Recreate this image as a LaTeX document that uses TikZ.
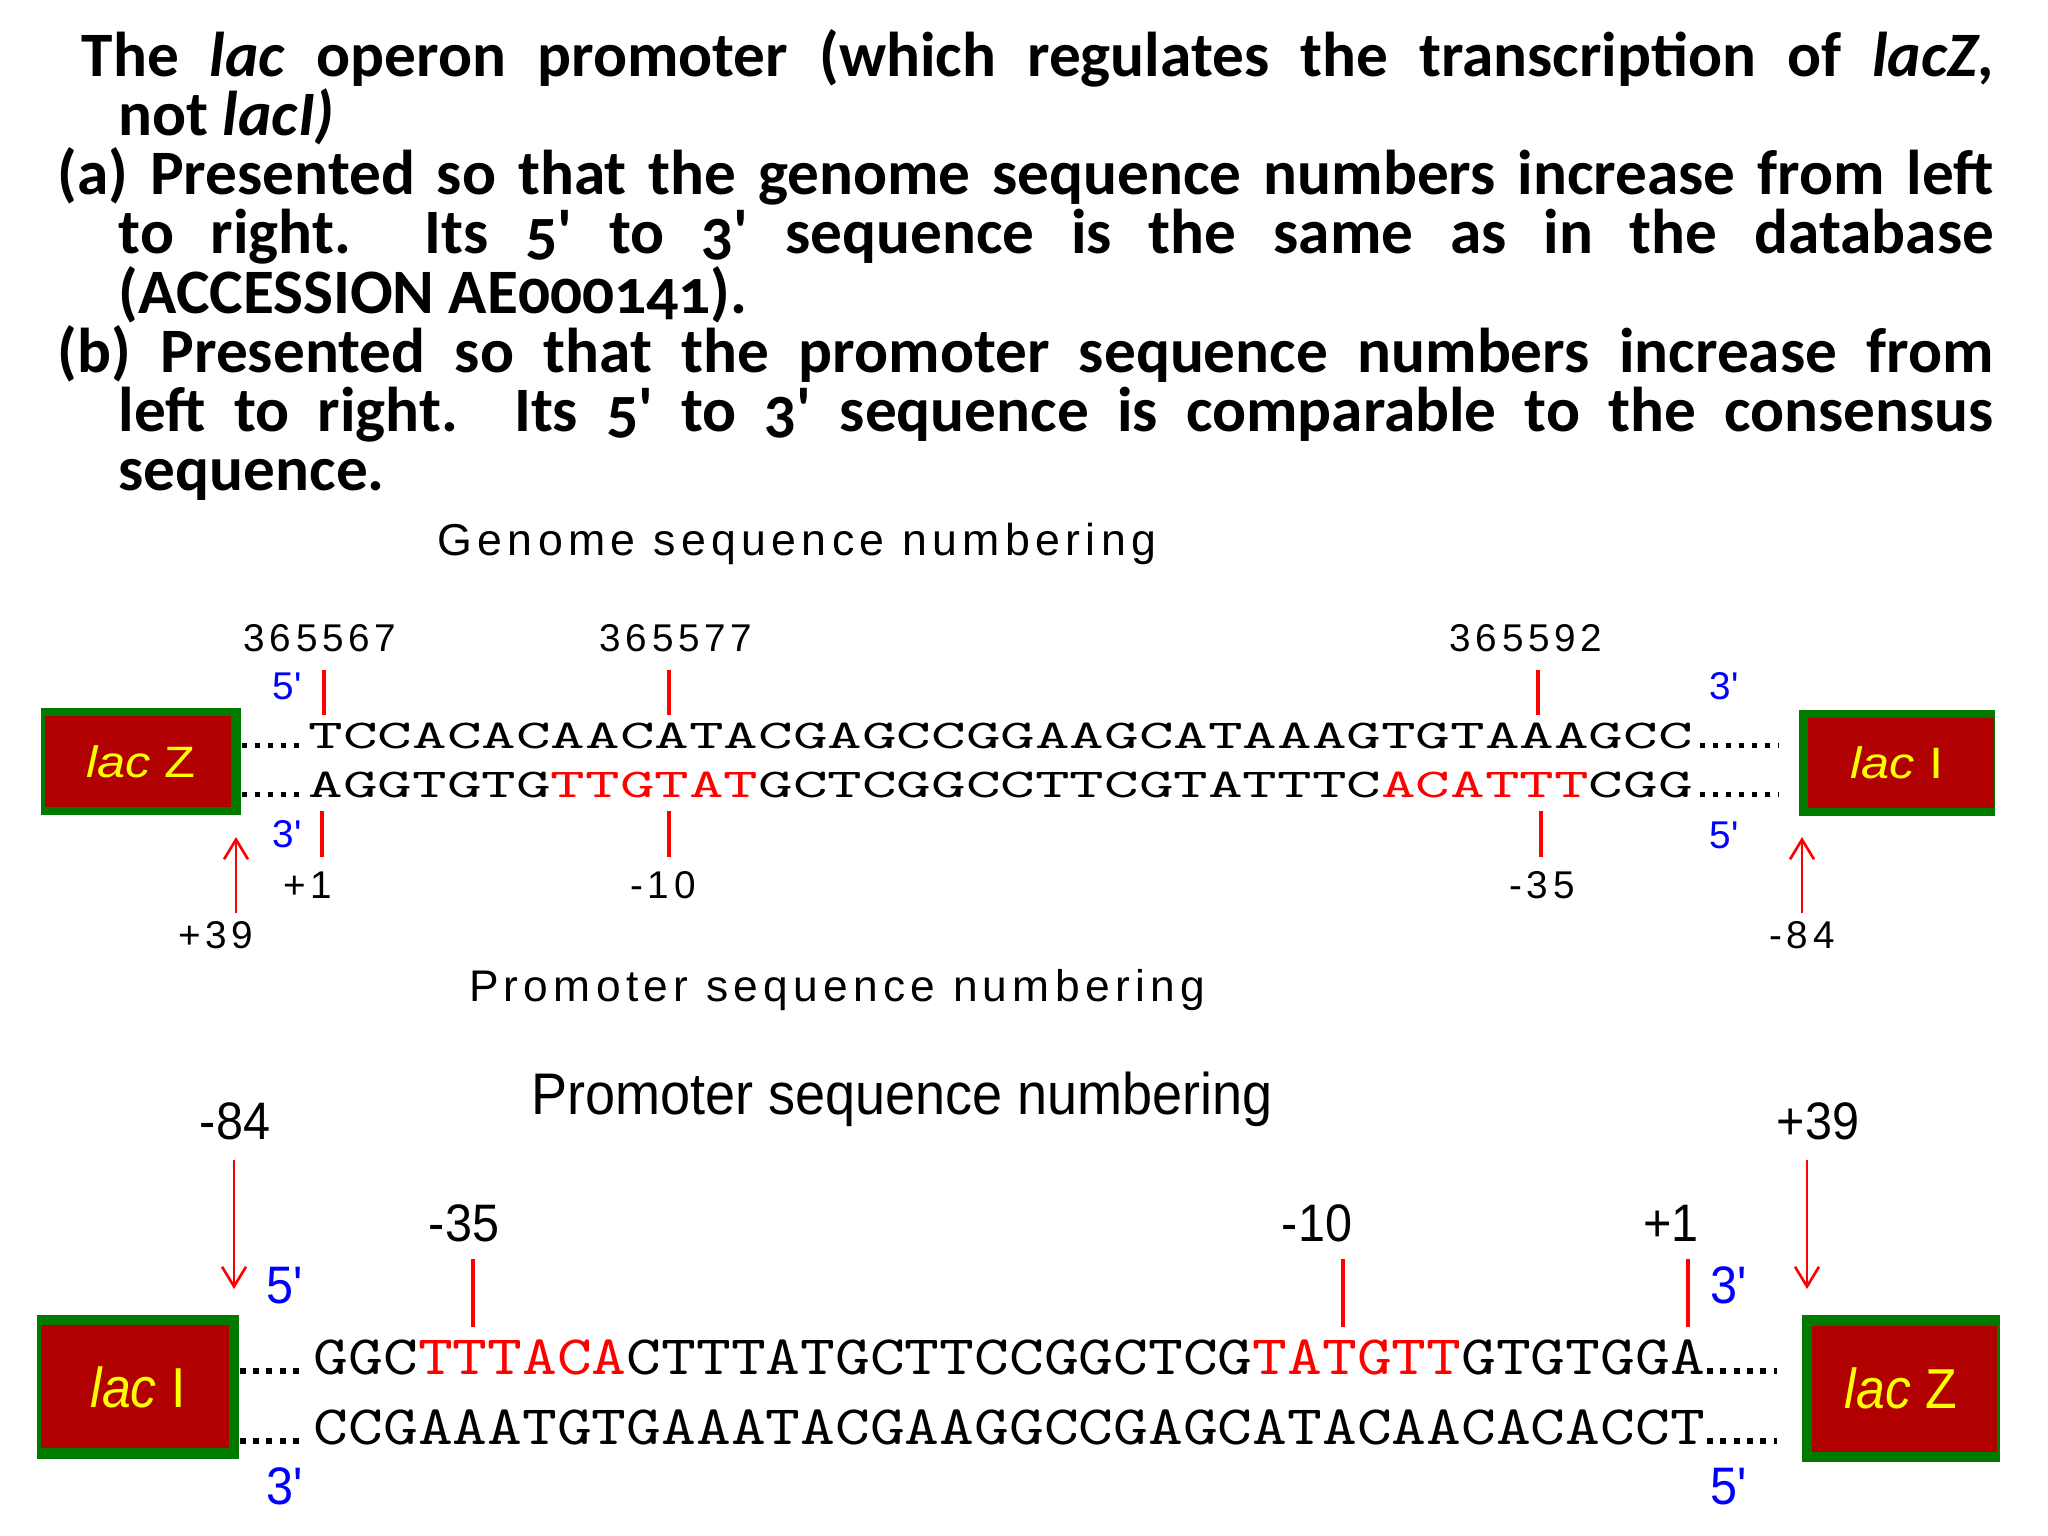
\documentclass[tikz,border=0pt]{standalone}
\usepackage{fontspec}
\usepackage{tikz}
\usetikzlibrary{positioning, arrows.meta}

\setmainfont{Carlito}[Numbers=OldStyle]
\newfontfamily\pixfont{Liberation Sans}[LetterSpace=12]
\newfontfamily\pixwide{Liberation Sans}[FakeStretch=1.15]
\newfontfamily\pixnarrow{Liberation Sans}[FakeStretch=0.92]
\newfontfamily\seqwide{lmmono10-regular.otf}[FakeStretch=1.61]
\newfontfamily\seqnarrow{lmmono10-regular.otf}[FakeStretch=1.19]

\definecolor{genegreen}{RGB}{0,122,0}
\definecolor{genered}{RGB}{176,0,0}
\definecolor{geneyellow}{RGB}{255,255,0}
\definecolor{tickred}{RGB}{255,0,0}
\definecolor{endblue}{RGB}{0,0,255}

\begin{document}
\begin{tikzpicture}
[
    x=0.01cm, y=-0.01cm,
    % One unit is one pixel of the 2048 x 1536 frame, y runs downwards.
    % Genome panel nodes are named G-..., promoter panel nodes P-...
]

%=================================== Start ===================================
\tikzstyle{gene}     = [rectangle, inner sep=0pt, fill=genegreen, text=geneyellow]
\tikzstyle{tickline} = [draw=tickred, line width=0.9pt]
\tikzstyle{pointer}  = [draw=tickred, line width=0.75pt,
                        -{Straight Barb[length=5.6pt, width=6.8pt]}]
\tikzstyle{leader}   = [line width=1.5pt, dash pattern=on 1.5pt off 2.2pt]
\tikzstyle{glbl}     = [inner sep=0pt, anchor=base, font=\pixfont\fontsize{11}{13}\selectfont]
\tikzstyle{plbl}     = [inner sep=0pt, anchor=base, font=\pixnarrow\fontsize{15}{18}\selectfont]
\tikzstyle{gseq}     = [inner sep=0pt, anchor=base west, font=\seqwide\fontsize{11.64}{14}\selectfont]
\tikzstyle{pseq}     = [inner sep=0pt, anchor=base west, font=\seqnarrow\fontsize{15.83}{18}\selectfont]
\tikzset{inset/.style args={#1/#2/#3/#4}{path picture={
    % red face inside the green frame: left/right/top/bottom margins
    \fill[genered] ([shift={(#1,#3)}]path picture bounding box.north west)
        rectangle ([shift={(-#2,-#4)}]path picture bounding box.south east);}}}

\fill[white] (0,0) rectangle (2048,1536);
\useasboundingbox (0,0) rectangle (2048,1536);

% Heading text
\node[anchor=base west, inner sep=0pt, text width=19.35cm, align=justify,
      font=\bfseries\fontsize{18}{16.85}\selectfont] (intro) at (57,76)
{%
    \hangindent=0.61cm\hangafter=1\hskip0.24cm
    The \textit{lac} operon promoter (which regulates the transcription of \textit{lacZ},\linebreak
    not \textit{lacI)}\par
    \hangindent=0.61cm\hangafter=1
    (a) Presented so that the genome sequence numbers increase from left\linebreak
    to right.\ \ Its 5\textquotesingle{} to 3\textquotesingle{} sequence is the same as in the database\linebreak
    (ACCESSION AE000141).\par
    \hangindent=0.61cm\hangafter=1
    (b) Presented so that the promoter sequence numbers increase from\linebreak
    left to right.\ \ Its 5\textquotesingle{} to 3\textquotesingle{} sequence is comparable to the consensus\linebreak
    sequence.\par
};

% ------------------------- Genome sequence numbering -------------------------
\node[glbl, font=\pixfont\fontsize{12.7}{15}\selectfont] (G-title) at (797,555)
    {Genome sequence numbering};

% Draw genes
\node[gene, minimum width=2cm, minimum height=1.07cm, inset=4/10/8/8,
      font=\pixwide\fontsize{12.5}{14}\selectfont] (G-lacZ) at (141,761.5) {\textit{lac} Z};
\node[gene, minimum width=1.96cm, minimum height=1.06cm, inset=9/1/8/8,
      font=\pixwide\fontsize{12.5}{14}\selectfont] (G-lacI) at (1897,763) {\textit{lac} I};

% Draw strands
\node[gseq] (G-top) at (308,748) {TCCACACAACATACGAGCCGGAAGCATAAAGTGTAAAGCC};
\node[gseq] (G-bot) at (308,797)
    {AGGTGTG\textcolor{tickred}{TTGTAT}GCTCGGCCTTCGTATTTC\textcolor{tickred}{ACATTT}CGG};

% Dotted leaders between genes and strands
\coordinate (G-top-l) at (302,745.5);
\coordinate (G-bot-l) at (302,794.5);
\coordinate (G-top-r) at (1700,745.5);
\coordinate (G-bot-r) at (1700,794.5);
\foreach \s in {top, bot}
{
    \draw[leader] (G-lacZ.east |- G-\s-l) -- (G-\s-l);
    \draw[leader, shorten >=5.7pt] (G-\s-r) -- (G-\s-r -| G-lacI.west);
}

% Strand ends
\node[glbl, text=endblue] (G-5l) at (287,699)  {5\textquotesingle};
\node[glbl, text=endblue] (G-3l) at (287,847)  {3\textquotesingle};
\node[glbl, text=endblue] (G-3r) at (1724,699) {3\textquotesingle};
\node[glbl, text=endblue] (G-5r) at (1724,848) {5\textquotesingle};

% Genome numbers above the upper strand
\foreach \x / \lx / \i / \num in {324/320/1/365567, 669/676/2/365577, 1538/1526/3/365592}
{
    \node[glbl] (G-num-\i) at (\lx,651) {\num};
    \coordinate (G-up-\i) at (\x,670);
    \coordinate (G-dn-\i) at (\x,715);
    \draw[tickline] (G-up-\i) -- (G-dn-\i);
}
% Promoter positions below the lower strand
\foreach \x / \lx / \i / \pos in {322/308/1/{+1}, 669/663/2/{-10}, 1541/1542/3/{-35}}
{
    \node[glbl] (G-pos-\i) at (\lx,898) {\pos};
    \coordinate (G-hi-\i) at (\x,811);
    \coordinate (G-lo-\i) at (\x,857);
    \draw[tickline] (G-hi-\i) -- (G-lo-\i);
}

% Ends of the promoter
\node[glbl] (G-p39) at (216,948)  {+39};
\node[glbl] (G-m84) at (1802,948) {-84};
\coordinate (G-p39-tail) at (236,913);
\coordinate (G-p39-tip)  at (236,837);
\coordinate (G-m84-tail) at (1802,913);
\coordinate (G-m84-tip)  at (1802,837);
\draw[pointer] (G-p39-tail) -- (G-p39-tip);
\draw[pointer] (G-m84-tail) -- (G-m84-tip);

\node[glbl, font=\pixfont\fontsize{12.6}{15}\selectfont] (G-caption) at (837,1001)
    {Promoter sequence numbering};

% ------------------------ Promoter sequence numbering ------------------------
\node[plbl, font=\pixnarrow\fontsize{16.7}{20}\selectfont] (P-title) at (902,1114)
    {Promoter sequence numbering};

% Draw genes
\node[gene, minimum width=2.02cm, minimum height=1.44cm, inset=4/10/10/11,
      font=\pixnarrow\fontsize{16}{19}\selectfont] (P-lacI) at (138,1387) {\textit{lac} I};
\node[gene, minimum width=1.98cm, minimum height=1.47cm, inset=10/3/11/10,
      font=\pixnarrow\fontsize{16}{19}\selectfont] (P-lacZ) at (1901,1388.5) {\textit{lac} Z};

% Draw strands
\node[pseq] (P-top) at (313,1374)
    {GGC\textcolor{tickred}{TTTACA}CTTTATGCTTCCGGCTCG\textcolor{tickred}{TATGTT}GTGTGGA};
\node[pseq] (P-bot) at (313,1444) {CCGAAATGTGAAATACGAAGGCCGAGCATACAACACACCT};

% Dotted leaders between genes and strands
\coordinate (P-top-l) at (306,1371);
\coordinate (P-bot-l) at (306,1441);
\coordinate (P-top-r) at (1707,1371);
\coordinate (P-bot-r) at (1707,1441);
\foreach \s in {top, bot}
{
    \draw[leader, line width=1.7pt, dash pattern=on 1.7pt off 2.1pt]
        (P-lacI.east |- P-\s-l) -- (P-\s-l);
    \draw[leader, line width=1.7pt, dash pattern=on 1.7pt off 2.1pt, shorten >=6.8pt]
        (P-\s-r) -- (P-\s-r -| P-lacZ.west);
}

% Strand ends
\node[plbl, text=endblue] (P-5l) at (285,1303)  {5\textquotesingle};
\node[plbl, text=endblue] (P-3l) at (285,1504)  {3\textquotesingle};
\node[plbl, text=endblue] (P-3r) at (1729,1303) {3\textquotesingle};
\node[plbl, text=endblue] (P-5r) at (1729,1504) {5\textquotesingle};

% Promoter positions above the upper strand
\foreach \x / \lx / \i / \pos in {473/464/1/{-35}, 1343/1317/2/{-10}, 1688/1671/3/{+1}}
{
    \node[plbl] (P-pos-\i) at (\lx,1241) {\pos};
    \coordinate (P-up-\i) at (\x,1259);
    \coordinate (P-dn-\i) at (\x,1327);
    \draw[tickline] (P-up-\i) -- (P-dn-\i);
}

% Ends of the promoter
\node[plbl] (P-m84) at (235,1139)  {-84};
\node[plbl] (P-p39) at (1818,1139) {+39};
\coordinate (P-m84-tail) at (234,1160);
\coordinate (P-m84-tip)  at (234,1289);
\coordinate (P-p39-tail) at (1807,1160);
\coordinate (P-p39-tip)  at (1807,1289);
\draw[pointer] (P-m84-tail) -- (P-m84-tip);
\draw[pointer] (P-p39-tail) -- (P-p39-tip);
%==================================== END ====================================

\end{tikzpicture}
\end{document}
